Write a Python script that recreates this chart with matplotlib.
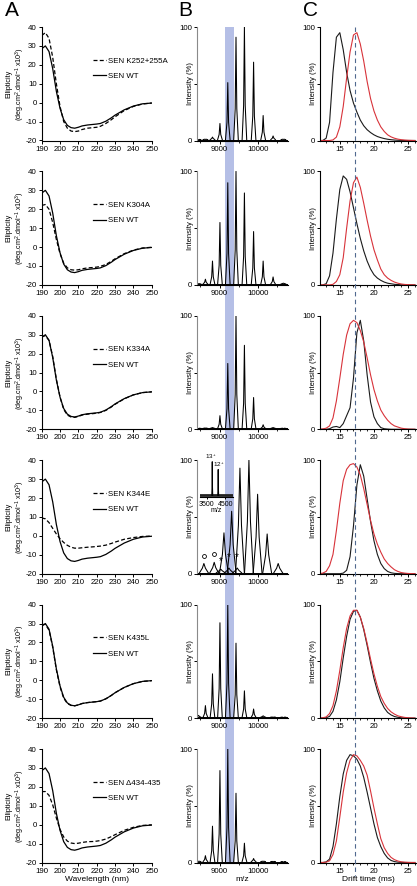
import matplotlib
matplotlib.use('Agg')
import matplotlib.pyplot as plt
from matplotlib.lines import Line2D
from matplotlib.patches import Rectangle
from matplotlib.transforms import blended_transform_factory

plt.rcParams['font.family'] = ['Liberation Sans', 'DejaVu Sans']
plt.rcParams['font.size'] = 5.7
plt.rcParams['mathtext.default'] = 'regular'
plt.rcParams['axes.unicode_minus'] = False
plt.rcParams['axes.linewidth'] = 0.8

W, H = 417, 886

# ---- panel A: CD spectra ----
wavelength = [190, 192, 194, 196, 198, 200, 202, 204, 206, 208, 210, 212,
              215, 218, 220, 222, 225, 228, 230, 235, 240, 245, 250]
cd_wt = [28.5, 30, 27, 18, 6, -3, -9, -12, -13.2, -13.5, -13, -12.3,
         -11.8, -11.5, -11.3, -11, -9.8, -8, -6.6, -3.8, -1.8, -0.6, -0.2]
cd_k252 = [35.5, 37, 34, 24, 10, -2, -10, -13.5, -15, -15.3, -15, -14.2,
           -13.5, -13.2, -13, -12.5, -11, -9, -7.5, -4.2, -2, -0.7, -0.2]
cd_k304 = [22, 22.5, 20, 13, 4, -3.5, -8.5, -11, -12, -12.2, -12, -11.5,
           -11, -10.8, -10.6, -10.2, -9.2, -7.5, -6.2, -3.5, -1.6, -0.5, -0.1]
cd_k334 = [29, 29.5, 27, 18.5, 6.5, -3, -9.5, -12.5, -13.5, -13.7, -13.2, -12.5,
           -12, -11.7, -11.5, -11.1, -10, -8.2, -6.8, -3.9, -1.8, -0.6, -0.2]
cd_k344 = [9.5, 9, 7, 4, 1, -1.5, -3.5, -5, -6, -6.5, -6.5, -6.3,
           -6, -5.8, -5.6, -5.4, -4.9, -4, -3.3, -1.8, -0.9, -0.3, -0.1]
cd_k435 = [29.5, 29.5, 26.5, 17.5, 5.5, -3.5, -9.5, -12.3, -13.3, -13.5, -13, -12.3,
           -11.8, -11.5, -11.3, -11, -9.8, -8, -6.6, -3.8, -1.8, -0.6, -0.2]
cd_d434 = [17.5, 17.5, 15.5, 10.5, 3.5, -2.5, -6.5, -8.7, -9.7, -10, -9.8, -9.4,
           -9, -8.9, -8.7, -8.4, -7.6, -6.3, -5.3, -3, -1.4, -0.4, -0.1]
mutant_labels = ['SEN K252+255A', 'SEN K304A', 'SEN K334A', 'SEN K344E',
                 'SEN K435L', 'SEN \u0394434-435']
mutant_cd = [cd_k252, cd_k304, cd_k334, cd_k344, cd_k435, cd_d434]

# ---- panel B: native mass spectra ----
mz_series = [8450, 8630, 8815, 9010, 9215, 9430, 9650, 9890, 10140, 10400, 10670]
ms_k252 = [0.5, 1, 3, 15, 51, 91, 100, 69, 22, 4, 1]
ms_k304 = [1, 5, 21, 55, 90, 100, 81, 47, 21, 7, 1.5]
ms_k334 = [0.5, 1, 1.5, 12, 58, 100, 74, 28, 4, 1.5, 0.5]
ms_k435 = [2.4, 11, 39, 84, 100, 66, 24, 8, 2, 0.5, 0]
ms_d434 = [1, 6, 32, 81, 100, 61, 17, 3.5, 1, 0.5, 0]
mz_k344 = [8590, 8860, 9030, 9115, 9245, 9316, 9462, 9533, 9768, 9995, 10245, 10533]
ms_k344 = [9, 10, 4, 36, 5, 55, 5, 93, 100, 70, 35, 9]
circle_mz = [8590, 8860]
star_mz = [9030, 9245, 9462]
inset_mz = [3800, 4115]
inset_int = [86, 67]
inset_labels = ['13$^+$', '12$^+$']
band_mz = (9150, 9370)

# ---- panel C: arrival time distributions ----
drift = [12, 12.5, 13, 13.5, 14, 14.5, 15, 15.5, 16, 16.5, 17, 17.5, 18, 18.5,
         19, 19.5, 20, 20.5, 21, 21.5, 22, 22.5, 23, 23.5, 24, 24.5, 25, 25.5, 26]
dt_k252 = [0, 0, 2, 16, 60, 91, 95, 80, 60, 44, 33, 25, 18, 13, 9.5, 7, 5, 3.5,
           2.5, 1.7, 1.1, 0.7, 0.4, 0.2, 0.1, 0, 0, 0, 0]
dt_wt1 = [0, 0, 0, 0, 0.5, 3, 12, 30, 55, 78, 93, 95, 85, 70, 52, 37, 26, 18,
          12, 8, 5, 3.2, 2, 1.2, 0.7, 0.4, 0.2, 0.1, 0]
dt_k304 = [0, 0, 1, 8, 28, 58, 84, 96, 93, 82, 68, 54, 41, 30, 21, 14, 9, 6,
           4, 2.5, 1.5, 1, 0.5, 0.3, 0.1, 0, 0, 0, 0]
dt_wt2 = [0, 0, 0, 0, 0.5, 3, 9, 24, 50, 74, 90, 95, 86, 72, 57, 43, 31, 22,
          14, 9, 6, 4, 2.5, 1.5, 0.8, 0.4, 0.2, 0.1, 0]
dt_k334 = [0, 0, 0, 0.5, 2, 2.5, 1.5, 5, 12, 19, 45, 85, 96, 78, 48, 24, 11, 5,
           1.5, 0.5, 0.2, 0, 0, 0, 0, 0, 0, 0, 0]
dt_wt3 = [0, 0.3, 1, 3, 10, 25, 45, 66, 83, 93, 96, 94, 87, 77, 63, 48, 35, 25,
          17, 12, 8, 5, 3, 2, 1, 0.5, 0.2, 0.1, 0]
dt_k344 = [0, 0, 0, 0, 0, 0, 0, 0.5, 3, 15, 42, 78, 96, 86, 66, 46, 29, 17,
           9, 4.5, 2, 0.8, 0.3, 0.1, 0, 0, 0, 0, 0]
dt_wt4 = [0, 0.5, 2, 7, 17, 38, 62, 82, 92, 96, 97, 94, 87, 75, 61, 47, 35, 26,
          19, 13, 9, 6, 3.5, 2, 1, 0.5, 0.2, 0.1, 0]
dt_k435 = [0, 0, 0.3, 1.5, 6, 16, 32, 53, 72, 87, 94, 95, 89, 78, 64, 49, 35, 24,
           15, 9, 5, 2.8, 1.4, 0.7, 0.3, 0.1, 0, 0, 0]
dt_wt5 = [0, 0.3, 1, 4, 11, 24, 42, 62, 79, 90, 95, 95, 89, 79, 66, 52, 39, 28,
          19, 13, 8.5, 5.5, 3.5, 2, 1.2, 0.6, 0.3, 0.1, 0]
dt_d434 = [0, 0, 0.5, 3, 14, 34, 58, 78, 90, 95, 94, 91, 85, 75, 62, 48, 34, 22,
           14, 8, 4, 1.8, 0.8, 0.3, 0.1, 0, 0, 0, 0]
dt_wt6 = [0, 0, 0.3, 1.5, 7, 19, 40, 62, 79, 90, 95, 94, 90, 85, 77, 63, 48, 34,
          21, 13, 8, 4.5, 2.5, 1.3, 0.6, 0.3, 0.1, 0, 0]
dt_mutants = [dt_k252, dt_k304, dt_k334, dt_k344, dt_k435, dt_d434]
dt_wts = [dt_wt1, dt_wt2, dt_wt3, dt_wt4, dt_wt5, dt_wt6]
drift_marker = 17.2

fig = plt.figure(figsize=(W / 100, H / 100), dpi=100)


def px_axes(left, top, width, height):
    ax = fig.add_axes([left / W, 1 - (top + height) / H, width / W, height / H])
    ax.set_facecolor('none')
    for s in ('top', 'right'):
        ax.spines[s].set_visible(False)
    ax.tick_params(direction='out', length=2.5, width=0.7, pad=1.2)
    ax.tick_params(which='minor', direction='out', length=1.6, width=0.6)
    return ax


def draw_peaks(ax, centers, heights, hw, base=0.8, shoulder=0.3):
    # each peak as a narrow spike with a slightly flared foot
    for c, h in zip(centers, heights):
        ax.plot([c - hw, c - 0.35 * hw, c, c + 0.35 * hw, c + hw],
                [base, base + shoulder * h, h, base + shoulder * h, base],
                color='k', lw=0.75)


ROW_H = 113.5
row_tops = [27 + 144.4 * i for i in range(6)]
ms_rows = [(mz_series, ms_k252), (mz_series, ms_k304), (mz_series, ms_k334),
           (mz_k344, ms_k344), (mz_series, ms_k435), (mz_series, ms_d434)]
axB_list, axC_list = [], []

for i, top in enumerate(row_tops):
    last = i == 5

    # A
    ax = px_axes(41.7, top, 110, ROW_H)
    ax.plot(wavelength, mutant_cd[i], color='k', lw=0.9, ls=(0, (3.2, 1.8)),
            label=mutant_labels[i])
    ax.plot(wavelength, cd_wt, color='k', lw=0.9, label='SEN WT')
    ax.set_xlim(190, 250)
    ax.set_ylim(-20, 40)
    ax.set_xticks(range(190, 251, 10))
    ax.set_yticks(range(-20, 41, 10))
    ax.set_ylabel('Ellipticity\n(deg.cm$^2$.dmol$^{-1}$ x10$^3$)', fontsize=5.2,
                  linespacing=1.15)
    ax.yaxis.set_label_coords(-0.135, 0.5)
    ax.legend(loc='upper left', bbox_to_anchor=(0.47, 0.735), borderaxespad=0,
              borderpad=0, handlelength=1.6, handletextpad=0.25, labelspacing=1.0,
              frameon=False, fontsize=5.7)
    if last:
        ax.set_xlabel('Wavelength (nm)', fontsize=6, labelpad=1)

    # B
    ax = px_axes(197, top, 91, ROW_H)
    mz, inten = ms_rows[i]
    ax.set_xlim(8410, 10790)
    ax.set_ylim(0, 100)
    ax.plot([8410, 10790], [0.8, 0.8], color='k', lw=0.7)
    if i == 3:
        draw_peaks(ax, mz, inten, 115, shoulder=0.45)
    else:
        draw_peaks(ax, mz, inten, 60)
    ax.set_xticks([9000, 10000])
    ax.set_xticks([8500, 9500, 10500], minor=True)
    ax.set_yticks([0, 50, 100])
    ax.set_yticklabels(['0', '', '100'])
    ax.spines['left'].set_color('#8a8a8a')
    ax.set_ylabel('Intensity (%)', fontsize=5.5)
    ax.yaxis.set_label_coords(-0.03, 0.5)
    if last:
        ax.set_xlabel('m/z', fontsize=6, labelpad=1)
    axB_list.append(ax)

    # C
    ax = px_axes(320, top, 97, ROW_H)
    ax.plot(drift, dt_mutants[i], color='#1a1a1a', lw=0.8)
    ax.plot(drift, dt_wts[i], color='#d8333a', lw=0.8)
    ax.set_xlim(12.1, 26.3)
    ax.set_ylim(0, 100)
    ax.set_xticks([15, 20, 25])
    ax.set_xticks(range(13, 27), minor=True)
    ax.set_yticks([0, 50, 100])
    ax.set_yticklabels(['0', '', '100'])
    ax.set_ylabel('Intensity (%)', fontsize=5.5)
    ax.yaxis.set_label_coords(-0.03, 0.5)
    if last:
        ax.set_xlabel('Drift time (ms)', fontsize=6, labelpad=1)
    axC_list.append(ax)

# K344E markers and inset
axB4 = axB_list[3]
axB4.plot(circle_mz, [16, 17], 'o', mfc='none', mec='k', ms=2.8, mew=0.6)
for x, y in zip(star_mz, [7, 10, 10]):
    axB4.text(x, y, '*', fontsize=7, ha='center', va='bottom')
ins = px_axes(200, 456, 33, 41)
ins.set_xlim(3150, 4900)
ins.set_ylim(0, 100)
ins.spines['left'].set_visible(False)
ins.set_yticks([])
ins.plot([3150, 4900], [4, 4], color='#222222', lw=2.0)
draw_peaks(ins, inset_mz, inset_int, 25, base=4)
for x, y, s, dx in zip(inset_mz, inset_int, inset_labels, [-40, 60]):
    ins.text(x + dx, y + 1, s, fontsize=4.5, ha='center', va='bottom')
ins.set_xticks([3500, 4500])
ins.tick_params(labelsize=5, length=1.5, pad=1.5)
ins.set_xlabel('m/z', fontsize=5, labelpad=-0.5)

# highlighted m/z window spanning the B column
tb = blended_transform_factory(axB_list[0].transData, fig.transFigure)
band = Rectangle((band_mz[0], 1 - 862.5 / H), band_mz[1] - band_mz[0], (862.5 - 27) / H,
                 transform=tb, facecolor='#b5bfe6', lw=0, zorder=-1)
fig.add_artist(band)

# reference drift time through the C column
tc = blended_transform_factory(axC_list[0].transData, fig.transFigure)
fig.add_artist(Line2D([drift_marker, drift_marker], [1 - 27 / H, 1 - 876 / H],
                      transform=tc, color='#50698f', lw=0.8, ls=(0, (4, 3)), zorder=3))

for x, s in [(5, 'A'), (178, 'B'), (303, 'C')]:
    fig.text(x / W, 1 - 1 / H, s, fontsize=15, va='top', ha='left')

fig.savefig('out.png', dpi=100)
